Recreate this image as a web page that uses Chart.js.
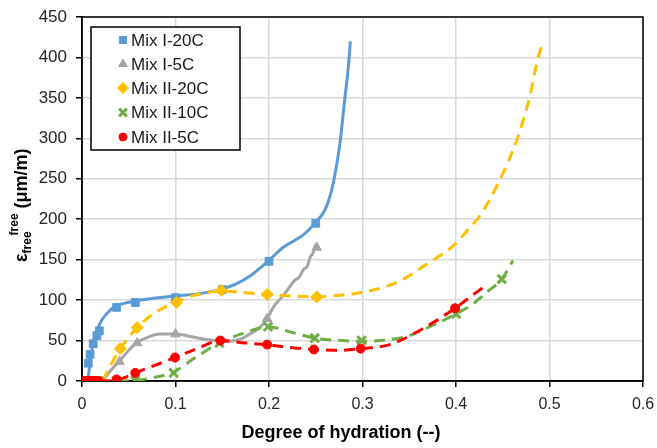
<!DOCTYPE html>
<html><head><meta charset="utf-8">
<script src="https://cdn.jsdelivr.net/npm/chart.js@4.4.1/dist/chart.umd.min.js"></script>
<style>html,body{margin:0;padding:0;background:#fff;}#wrap{width:657px;height:448px;position:relative}</style>
</head><body><div id="wrap"><canvas id="c" width="657" height="448"></canvas></div>
<script>
// ---- Data ----
const seriesNames = ["Mix I-20C", "Mix I-5C", "Mix II-20C", "Mix II-10C", "Mix II-5C"];
const xTickLabels = ["0", "0.1", "0.2", "0.3", "0.4", "0.5", "0.6"];
const yTickLabels = ["0", "50", "100", "150", "200", "250", "300", "350", "400", "450"];

// Mix I-20C
const mixI20_ptX = [0.0067, 0.0086, 0.012, 0.016, 0.0185, 0.037, 0.057, 0.1, 0.15, 0.2, 0.25];
const mixI20_ptY = [22, 33, 46, 56, 62, 91, 97, 103, 113, 148, 195];
const mixI20_lnX = [0.006, 0.009, 0.012, 0.016, 0.021, 0.028, 0.035, 0.045, 0.057, 0.075, 0.1, 0.125, 0.148, 0.165, 0.18, 0.197, 0.215, 0.237, 0.249, 0.26, 0.267, 0.272, 0.276, 0.281, 0.285, 0.287];
const mixI20_lnY = [0, 25, 47, 62, 75, 85, 92, 96, 99, 102, 105, 108, 113, 120, 130, 146, 165, 181, 195, 212, 236, 265, 295, 348, 390, 420];

// Mix I-5C
const mixI5_ptX = [0.04, 0.059, 0.1, 0.198, 0.251];
const mixI5_ptY = [24, 47, 58, 77, 165];
const mixI5_lnX = [0.022, 0.03, 0.041, 0.05, 0.058, 0.07, 0.083, 0.1, 0.12, 0.135, 0.156, 0.17, 0.178, 0.19, 0.198, 0.205, 0.214, 0.22, 0.228, 0.232, 0.237, 0.241, 0.244, 0.247, 0.25, 0.253];
const mixI5_lnY = [0, 12, 26, 38, 47, 54, 58, 58, 54, 51, 49, 52, 57, 66, 77, 92, 104, 113, 125, 128, 138, 142, 153, 158, 168, 163];

// Mix II-20C
const mixII20_ptX = [0.041, 0.059, 0.101, 0.149, 0.198, 0.251];
const mixII20_ptY = [40, 66, 97, 112, 107, 104];
const mixII20_lnX = [0.022, 0.03, 0.041, 0.05, 0.059, 0.075, 0.09, 0.101, 0.12, 0.149, 0.175, 0.198, 0.225, 0.251, 0.275, 0.297, 0.337, 0.372, 0.397, 0.415, 0.426, 0.447, 0.465, 0.479, 0.488, 0.494];
const mixII20_lnY = [0, 18, 40, 54, 66, 82, 92, 98, 106, 111, 109, 107, 105, 104, 106, 109, 122, 147, 167, 190, 205, 249, 298, 352, 401, 420];

// Mix II-10C
const mixII10_ptX = [0, 0.003, 0.006, 0.009, 0.012, 0.015, 0.018, 0.037, 0.057, 0.098, 0.147, 0.199, 0.249, 0.299, 0.4, 0.449];
const mixII10_ptY = [0, 0, 0, 0, 0, 0, 0, 0, 1, 10, 47, 67, 53, 50, 83, 126];
const mixII10_lnX = [0, 0.04, 0.06, 0.075, 0.098, 0.12, 0.147, 0.175, 0.199, 0.225, 0.249, 0.278, 0.299, 0.319, 0.347, 0.379, 0.4, 0.419, 0.433, 0.449, 0.461];
const mixII10_lnY = [0, 0, 1, 4, 11, 28, 47, 60, 67, 60, 53, 50, 49, 50, 55, 71, 83, 96, 110, 126, 149];

// Mix II-5C
const mixII5_ptX = [0, 0.003, 0.006, 0.009, 0.012, 0.015, 0.018, 0.037, 0.057, 0.0995, 0.148, 0.198, 0.248, 0.298, 0.399];
const mixII5_ptY = [0, 0, 0, 0, 0, 0, 0, 2, 10, 29, 50, 45, 39, 40, 90];
const mixII5_lnX = [0, 0.03, 0.045, 0.057, 0.075, 0.0995, 0.125, 0.148, 0.175, 0.198, 0.225, 0.248, 0.276, 0.298, 0.329, 0.365, 0.399, 0.42, 0.433];
const mixII5_lnY = [0, 0, 4, 10, 18, 29, 41, 50, 47, 45, 41, 39, 38, 40, 45, 65, 90, 108, 119];

// ---- Styling ----
const colors = ["#5B9BD5", "#A5A5A5", "#FFC000", "#70AD47", "#FF0000"];
const styles = ["rect", "triangle", "rectRot", "crossRot", "circle"];
const radii = [5.5, 5.5, 6, 6, 4.5];
const dashes = [[], [], [11, 7], [11, 7], [11, 7]];
const lineWidths = [3, 3, 3, 3, 3];

const pts = [[mixI20_ptX, mixI20_ptY],[mixI5_ptX, mixI5_ptY],[mixII20_ptX, mixII20_ptY],[mixII10_ptX, mixII10_ptY],[mixII5_ptX, mixII5_ptY]];
const lns = [[mixI20_lnX, mixI20_lnY],[mixI5_lnX, mixI5_lnY],[mixII20_lnX, mixII20_lnY],[mixII10_lnX, mixII10_lnY],[mixII5_lnX, mixII5_lnY]];
const zip = (xs, ys) => xs.map((x, i) => ({x: x, y: ys[i]}));

const datasets = [];
for (let i = 0; i < 5; i++) {
  datasets.push({
    label: seriesNames[i] + " trend",
    data: zip(lns[i][0], lns[i][1]), showLine: true,
    borderColor: colors[i], borderWidth: lineWidths[i], borderDash: dashes[i],
    pointRadius: 0, cubicInterpolationMode: 'monotone', fill: false,
    order: 20 - i * 2
  });
  datasets.push({
    label: seriesNames[i],
    data: zip(pts[i][0], pts[i][1]), showLine: false,
    pointStyle: styles[i], pointRadius: radii[i],
    backgroundColor: colors[i], borderColor: colors[i],
    borderWidth: styles[i] === 'crossRot' ? 3 : 1,
    order: 19 - i * 2
  });
}

const FONT = "'Liberation Sans', Arial, sans-serif";

const decor = {
  id: 'decor',
  beforeDatasetsDraw(chart) {
    const {ctx, chartArea: a} = chart;
    ctx.save();
    ctx.strokeStyle = '#000';
    ctx.lineWidth = 1.5;
    ctx.strokeRect(a.left, a.top, a.right - a.left, a.bottom - a.top);
    ctx.restore();
  },
  afterDraw(chart) {
    const {ctx} = chart;
    ctx.save();
    // Legend box
    const lx = 91, ly = 27, lw = 149, lh = 123;
    ctx.fillStyle = '#fff';
    ctx.fillRect(lx, ly, lw, lh);
    ctx.strokeStyle = '#000';
    ctx.lineWidth = 1.5;
    ctx.strokeRect(lx, ly, lw, lh);
    const rowY = [40, 64, 88, 112.5, 137];
    for (let i = 0; i < 5; i++) {
      const ds = chart.data.datasets[i * 2 + 1];
      ctx.fillStyle = colors[i]; ctx.strokeStyle = colors[i];
      ctx.lineWidth = styles[i] === 'crossRot' ? 3 : 1;
      Chart.helpers.drawPoint(ctx, {pointStyle: styles[i], radius: radii[i] - 0.5, borderWidth: ctx.lineWidth, rotation: 0}, 123, rowY[i]);
      ctx.fillStyle = '#1a1a1a';
      ctx.font = "17px " + FONT;
      ctx.textBaseline = 'middle';
      ctx.textAlign = 'left';
      ctx.fillText(ds.label, 131, rowY[i] + 1);
    }
    // X axis title
    ctx.fillStyle = '#000';
    ctx.font = "bold 18px " + FONT;
    ctx.textAlign = 'center';
    ctx.textBaseline = 'alphabetic';
    ctx.fillText("Degree of hydration (--)", 341, 438);
    // Y axis title: ε_free^free (μm/m)
    ctx.translate(27, 262);
    ctx.rotate(-Math.PI / 2);
    ctx.textAlign = 'left';
    let x = 0;
    ctx.font = "bold 18px " + FONT;
    ctx.fillText("ε", x, 0); x += ctx.measureText("ε").width;
    ctx.font = "bold 12px " + FONT;
    ctx.fillText("free", x, 4); const w1 = ctx.measureText("free").width;
    ctx.fillText("free", x + w1 - 4, -9); x += w1 * 2 - 4;
    ctx.font = "bold 18px " + FONT;
    ctx.fillText(" (μm/m)", x, 0);
    ctx.restore();
  }
};

new Chart(document.getElementById('c'), {
  type: 'scatter',
  data: {datasets},
  options: {
    responsive: false, animation: false,
    layout: {padding: {left: 0, top: 17, right: 14, bottom: 0}},
    plugins: {legend: {display: false}, tooltip: {enabled: false}},
    scales: {
      x: {
        type: 'linear', min: 0, max: 0.6,
        afterFit: s => { s.height = 67; s.paddingRight = 0; s.paddingLeft = 0; },
        afterBuildTicks: s => { s.ticks = xTickLabels.map(v => ({value: parseFloat(v)})); },
        ticks: {stepSize: 0.1, padding: 8, color: '#262626', font: {size: 16, family: FONT},
          callback: (v, i) => xTickLabels[i]},
        grid: {color: '#d9d9d9', lineWidth: 1.5, tickColor: '#000', tickLength: 6, tickWidth: 1.5},
        border: {display: true, color: '#000', width: 1.5}
      },
      y: {
        min: 0, max: 450,
        afterFit: s => { s.width = 82; s.paddingTop = 0; s.paddingBottom = 0; },
        afterBuildTicks: s => { s.ticks = yTickLabels.map(v => ({value: parseFloat(v)})); },
        ticks: {stepSize: 50, padding: 9, color: '#262626', font: {size: 17, family: FONT},
          callback: (v, i) => yTickLabels[i]},
        grid: {color: '#d9d9d9', lineWidth: 1.5, tickColor: '#000', tickLength: 6, tickWidth: 1.5},
        border: {display: true, color: '#000', width: 1.5}
      }
    }
  },
  plugins: [decor]
});
</script></body></html>
